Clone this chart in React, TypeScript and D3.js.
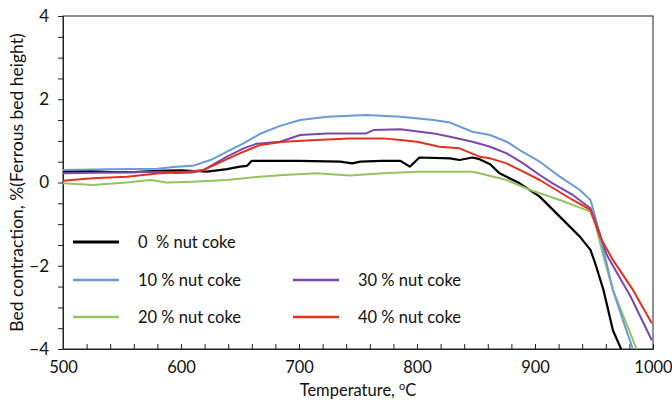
import React, { useEffect, useRef } from 'react'
import * as d3 from 'd3'

// temperature (°C) / bed contraction (%)
const t0 = [500, 520, 540, 560, 580, 600, 616, 622, 639, 650, 656, 660, 700, 735, 745, 752, 770, 786, 794, 802, 828, 836, 847, 853, 862, 870, 887, 904, 921, 938, 947, 951, 958, 962, 966, 973]
const v0 = [0.26, 0.28, 0.25, 0.25, 0.28, 0.29, 0.27, 0.26, 0.32, 0.38, 0.4, 0.52, 0.52, 0.5, 0.46, 0.5, 0.52, 0.52, 0.38, 0.6, 0.58, 0.54, 0.6, 0.56, 0.44, 0.22, -0.02, -0.34, -0.82, -1.3, -1.62, -1.94, -2.58, -3.06, -3.55, -4.0]

const t10 = [500, 540, 580, 596, 610, 625, 639, 653, 667, 684, 701, 724, 757, 786, 814, 828, 847, 862, 876, 887, 904, 921, 938, 947, 951, 958, 966, 978, 983]
const v10 = [0.3, 0.32, 0.33, 0.38, 0.4, 0.54, 0.74, 0.94, 1.17, 1.36, 1.5, 1.58, 1.62, 1.58, 1.5, 1.44, 1.22, 1.14, 0.98, 0.78, 0.5, 0.14, -0.18, -0.42, -0.82, -1.62, -2.58, -3.6, -4.0]

const t20 = [500, 525, 554, 574, 588, 610, 639, 667, 687, 715, 743, 771, 800, 828, 847, 853, 876, 896, 921, 947, 951, 958, 966, 979, 986]
const v20 = [-0.02, -0.06, 0, 0.06, 0, 0.02, 0.06, 0.14, 0.18, 0.22, 0.17, 0.22, 0.26, 0.26, 0.26, 0.22, 0.06, -0.18, -0.42, -0.7, -0.98, -1.78, -2.58, -3.5, -4.0]

const t30 = [500, 540, 582, 596, 610, 619, 639, 653, 664, 684, 701, 724, 757, 763, 786, 814, 828, 847, 862, 876, 890, 904, 915, 932, 947, 954, 961, 970, 981, 999]
const v30 = [0.22, 0.24, 0.26, 0.23, 0.24, 0.3, 0.62, 0.82, 0.93, 0.98, 1.14, 1.18, 1.18, 1.26, 1.28, 1.18, 1.1, 0.98, 0.86, 0.7, 0.46, 0.18, -0.02, -0.3, -0.62, -1.15, -1.75, -2.2, -2.74, -3.79]

const t40 = [500, 525, 554, 582, 605, 619, 639, 653, 667, 687, 715, 743, 771, 786, 800, 819, 836, 853, 862, 876, 890, 904, 918, 932, 947, 955, 966, 983, 999]
const v40 = [0.04, 0.1, 0.14, 0.22, 0.26, 0.3, 0.56, 0.74, 0.9, 0.98, 1.02, 1.06, 1.06, 1.02, 0.98, 0.86, 0.82, 0.62, 0.58, 0.46, 0.26, 0.06, -0.18, -0.42, -0.66, -1.3, -1.86, -2.58, -3.38]

const seriesNames = ['0  % nut coke', '10 % nut coke', '20 % nut coke', '30 % nut coke', '40 % nut coke']
const seriesColors = ['#000000', '#6a9bd6', '#93c461', '#7a48ab', '#e2321f']

const xTicks = [500, 600, 700, 800, 900, 1000]
const yTicks = [-4, -2, 0, 2, 4]

export default function App() {
  const svgRef = useRef(null)
  const width = 672
  const height = 409
  const margin = { top: 16, right: 19, bottom: 60, left: 63 }
  const w = width - margin.left - margin.right
  const h = height - margin.top - margin.bottom

  useEffect(() => {
    const svgEl = d3.select(svgRef.current)
    svgEl.selectAll('*').remove()
    const svg = svgEl.append('g').attr('transform', `translate(${margin.left}, ${margin.top})`)

    const x = d3.scaleLinear().domain([500, 1000]).range([0, w])
    const y = d3.scaleLinear().domain([-4, 4]).range([h, 0])
    const font = 'Lato, "Open Sans", sans-serif'

    // box (top + right)
    svg.append('rect').attr('x', 0).attr('y', 0).attr('width', w).attr('height', h)
      .attr('fill', 'none').attr('stroke', '#222').attr('stroke-width', 1)

    // x axis - minor ticks inside every 20
    const xAxis = svg.append('g').attr('transform', `translate(0, ${h})`)
      .call(d3.axisBottom(x).tickValues(d3.range(500, 1001, 20)).tickSize(-5).tickFormat(() => ''))
    xAxis.select('.domain').attr('stroke', '#222')
    xAxis.selectAll('line').attr('stroke', '#222')

    const xLab = svg.append('g').attr('transform', `translate(0, ${h})`)
      .call(d3.axisBottom(x).tickValues(xTicks).tickSize(0).tickPadding(12).tickFormat(d3.format('d')))
    xLab.select('.domain').remove()
    xLab.selectAll('text').attr('font-size', 16.5).attr('font-family', font).attr('fill', '#111')

    // y axis - ticks outside every 0.5
    const yAxis = svg.append('g')
      .call(d3.axisLeft(y).tickValues(d3.range(-4, 4.01, 0.5)).tickSize(5).tickFormat(() => ''))
    yAxis.select('.domain').attr('stroke', '#222')
    yAxis.selectAll('line').attr('stroke', '#222')

    const yLab = svg.append('g')
      .call(d3.axisLeft(y).tickValues(yTicks).tickSize(0).tickPadding(14).tickFormat(d3.format('d')))
    yLab.select('.domain').remove()
    yLab.selectAll('text').attr('font-size', 17).attr('font-family', font).attr('fill', '#111')

    // lines
    const all = [
      [t0, v0],
      [t10, v10],
      [t20, v20],
      [t30, v30],
      [t40, v40],
    ]
    const line = d3.line<[number, number]>().x((d) => x(d[0])).y((d) => y(d[1]))
    const order = [0, 2, 1, 3, 4]
    order.forEach((i) => {
      const [ts, vs] = all[i]
      const pts = ts.map((t, k) => [t, vs[k]] as [number, number])
      svg.append('path').datum(pts).attr('fill', 'none').attr('stroke', seriesColors[i])
        .attr('stroke-width', i === 0 ? 2.2 : 2).attr('stroke-linejoin', 'round').attr('d', line)
    })

    // legend
    const legendPos = [
      [10, 242],
      [10, 280],
      [10, 317],
      [230, 280],
      [230, 317],
    ]
    legendPos.forEach(([lx, ly], i) => {
      const g = svg.append('g').attr('transform', `translate(${lx}, ${ly - margin.top})`)
      g.append('line').attr('x1', 0).attr('x2', 46).attr('y1', 0).attr('y2', 0)
        .attr('stroke', seriesColors[i]).attr('stroke-width', i === 0 ? 3 : 2.5)
      g.append('text').attr('x', 65).attr('y', 0).attr('dy', '0.35em').attr('font-size', 16.5)
        .attr('font-family', font).attr('fill', '#111').attr('xml:space', 'preserve').text(seriesNames[i])
    })

    // titles
    const xt = svgEl.append('text').attr('x', margin.left + w / 2).attr('y', 396)
      .attr('text-anchor', 'middle').attr('font-size', 16.5).attr('font-family', font).attr('fill', '#111')
    xt.append('tspan').text('Temperature, ')
    xt.append('tspan').attr('font-size', 11).attr('dy', -6).text('o')
    xt.append('tspan').attr('dy', 6).text('C')

    svgEl.append('text').attr('transform', `translate(23, ${margin.top + h / 2}) rotate(-90)`)
      .attr('text-anchor', 'middle').attr('font-size', 17.5).attr('font-family', font).attr('fill', '#111')
      .text('Bed contraction, %(Ferrous bed height)')
  }, [])

  return (
    <svg
      ref={svgRef}
      width={width}
      height={height}
      style={{ position: 'absolute', left: 0, top: 0, background: '#fff' }}
    />
  )
}
